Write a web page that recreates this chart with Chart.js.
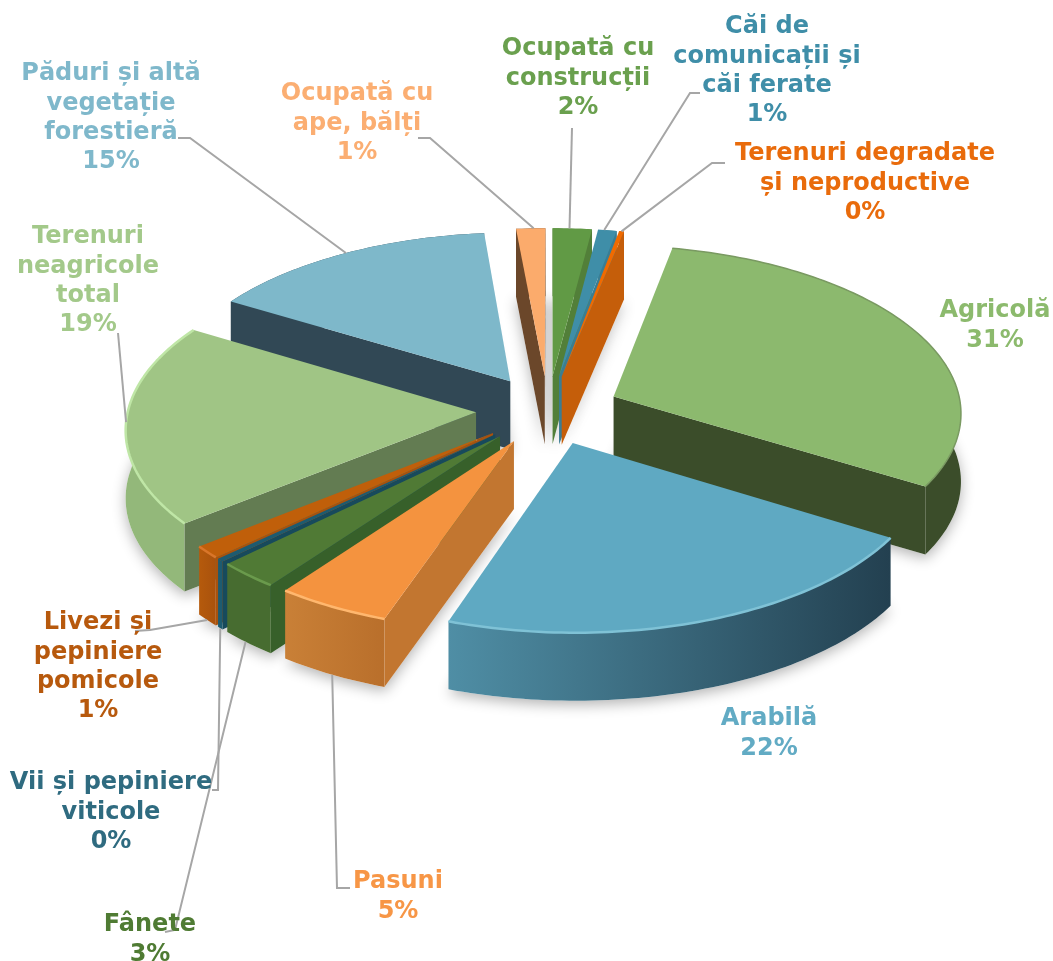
<!DOCTYPE html>
<html lang="ro">
<head>
  <meta charset="UTF-8">
  <title>Structura fondului funciar</title>
  <script src="https://cdn.jsdelivr.net/npm/chart.js"></script>
  <style>
    html, body { margin: 0; padding: 0; background: #fff; }
    canvas { display: block; }
  </style>
</head>
<body>
  <canvas id="pie" width="1053" height="961"></canvas>
  <script>
    // Date (%)
    const categories = ['Agricolă', 'Arabilă', 'Pasuni', 'Fânete', 'Vii și pepiniere viticole',
      'Livezi și pepiniere pomicole', 'Terenuri neagricole total', 'Păduri și altă vegetație forestieră',
      'Ocupată cu ape, bălți', 'Ocupată cu construcții', 'Căi de comunicații și căi ferate',
      'Terenuri degradate și neproductive'];
    const values = [30.52, 21.52, 4.8, 2.6, 0.3, 1.2, 19.4, 14.9, 1.49, 2, 0.95, 0.25];

    // Culori: fața de sus, pereți, margine exterioară (stânga, dreapta), etichetă
    const topColors = ['#8cb96e', '#5fa9c2', '#f4933f', '#507a35', '#1d5b70', '#c05f0a', '#a0c585', '#7eb8ca', '#fbab6c', '#619a45', '#3f8ea8', '#f06a00'];
    const wallColors = ['#3b4d2a', '#25414f', '#c27630', '#37602a', '#174a5c', '#a9520d', '#637c52', '#314855', '#6b472a', '#527f39', '#3a7d93', '#c55e0a'];
    const rimLeft = ['#5d7d45', '#4f8ea5', '#c98037', '#476c30', '#1d5b70', '#b55a0c', '#93b87a', '#314855', '#6b472a', '#527f39', '#3a7d93', '#c55e0a'];
    const rimRight = ['#3b4d2a', '#234050', '#b96f2b', '#476c30', '#1d5b70', '#a9520d', '#93b87a', '#314855', '#6b472a', '#527f39', '#3a7d93', '#c55e0a'];
    const rimLight = ['#7a9a62', '#7fc2d6', '#ffb76e', '#6a9a4c', null, '#d9762a', '#bfe6a6', null, null, null, null, null];
    const labelColors = ['#8cba6d', '#62abc4', '#f79646', '#4f7b33', '#2f6b80', '#b7590d', '#a3c98a', '#7fb8cb', '#fbae72', '#6aa04e', '#3f8ea8', '#e96b0b'];

    // Etichete pe linii
    const labelLines = [
      ['Agricolă'], ['Arabilă'], ['Pasuni'], ['Fânete'], ['Vii și pepiniere', 'viticole'],
      ['Livezi și', 'pepiniere', 'pomicole'], ['Terenuri', 'neagricole', 'total'],
      ['Păduri și altă', 'vegetație', 'forestieră'], ['Ocupată cu', 'ape, bălți'],
      ['Ocupată cu', 'construcții'], ['Căi de', 'comunicații și', 'căi ferate'],
      ['Terenuri degradate', 'și neproductive']
    ];
    const labelX = [995, 769, 398, 150, 111, 98, 88, 111, 357, 578, 767, 865];
    const labelY = [311, 719, 882, 925, 783, 623, 237, 74, 94, 49, 27, 154];
    const lineStep = 29.3;

    // Linii de legătură: fracție pe arc, sus(0)/jos(1), apoi punctele următoare
    const leaders = [
      null, null,
      { t: 0.48, low: 1, pts: [[337, 888], [350, 888]] },
      { t: 0.55, low: 1, pts: [[175, 930], [165, 932]] },
      { t: 0.5, low: 1, pts: [[218, 790], [212, 790]] },
      { t: 0.5, low: 1, pts: [[150, 630], [135, 631]] },
      { t: 0.5, low: 0, pts: [[118, 333]] },
      { t: 0.5, low: 0, pts: [[190, 138], [178, 138]] },
      { t: 0.5, low: 0, pts: [[430, 138], [418, 138]] },
      { t: 0.45, low: 0, pts: [[572, 128]] },
      { t: 0.4, low: 0, pts: [[690, 93], [700, 93]] },
      { t: 0.5, low: 0, pts: [[712, 163], [725, 163]] }
    ];

    // Camera pentru efectul 3D
    const cx = 548, cy = 410, radius = 348, explode = 72, depth = 68, tilt = 0.479, focal = 3930;

    function project(x, y, z) {
      const p = focal / (focal - y);
      return [cx + x * p, cy + y * tilt * p + z];
    }

    function tracePoly(ctx, pts) {
      ctx.beginPath();
      pts.forEach((p, i) => i ? ctx.lineTo(p[0], p[1]) : ctx.moveTo(p[0], p[1]));
      ctx.closePath();
    }

    function sliceGeometry(arc) {
      const mid = (arc.startAngle + arc.endAngle) / 2;
      const ox = Math.cos(mid) * explode, oy = Math.sin(mid) * explode;
      const steps = Math.max(2, Math.ceil((arc.endAngle - arc.startAngle) / 0.02));
      const outer = [];
      for (let s = 0; s <= steps; s++) {
        const a = arc.startAngle + (arc.endAngle - arc.startAngle) * s / steps;
        outer.push([ox + Math.cos(a) * radius, oy + Math.sin(a) * radius]);
      }
      return { apex: [ox, oy], outer: outer };
    }

    function drawSlice(ctx, arc, i) {
      const g = sliceGeometry(arc);
      const topArc = g.outer.map(p => project(p[0], p[1], 0));
      const lowArc = g.outer.map(p => project(p[0], p[1], depth));
      const a0 = project(g.apex[0], g.apex[1], 0), a1 = project(g.apex[0], g.apex[1], depth);
      const last = topArc.length - 1;

      // perete exterior, cu degrade
      const grad = ctx.createLinearGradient(Math.min(topArc[0][0], topArc[last][0]), 0, Math.max(topArc[0][0], topArc[last][0]), 0);
      grad.addColorStop(0, rimLeft[i]);
      grad.addColorStop(1, rimRight[i]);
      ctx.fillStyle = grad;
      tracePoly(ctx, topArc.concat(lowArc.slice().reverse()));
      ctx.fill();

      // pereții radiali vizibili
      ctx.fillStyle = wallColors[i];
      if (Math.sin(arc.startAngle + Math.PI / 2) < 0) {
        tracePoly(ctx, [a0, topArc[0], lowArc[0], a1]);
        ctx.fill();
      }
      if (Math.sin(arc.endAngle + Math.PI / 2) > 0) {
        tracePoly(ctx, [a0, topArc[last], lowArc[last], a1]);
        ctx.fill();
      }

      // fața de sus
      ctx.fillStyle = topColors[i];
      tracePoly(ctx, [a0].concat(topArc));
      ctx.fill();

      // marginea luminată
      if (rimLight[i]) {
        ctx.save();
        ctx.strokeStyle = rimLight[i];
        ctx.lineWidth = i === 0 ? 1.5 : 2.5;
        ctx.lineJoin = 'round';
        ctx.beginPath();
        topArc.forEach((p, k) => k ? ctx.lineTo(p[0], p[1]) : ctx.moveTo(p[0], p[1]));
        ctx.stroke();
        ctx.restore();
      }
    }

    const pie3d = {
      id: 'pie3d',
      beforeDatasetsDraw(chart) {
        const ctx = chart.ctx;
        const arcs = chart.getDatasetMeta(0).data;
        const order = arcs.map((a, i) => i).sort((p, q) =>
          Math.sin((arcs[p].startAngle + arcs[p].endAngle) / 2) - Math.sin((arcs[q].startAngle + arcs[q].endAngle) / 2));

        // umbra de sub felii
        ctx.save();
        ctx.shadowColor = 'rgba(0,0,0,0.3)';
        ctx.shadowBlur = 14;
        ctx.shadowOffsetY = 4;
        ctx.fillStyle = '#fff';
        order.forEach(i => {
          const g = sliceGeometry(arcs[i]);
          const low = g.outer.map(p => project(p[0], p[1], depth));
          tracePoly(ctx, [project(g.apex[0], g.apex[1], depth)].concat(low));
          ctx.fill();
        });
        ctx.restore();

        order.forEach(i => drawSlice(ctx, arcs[i], i));
        return false; // feliile sunt desenate aici
      },
      afterDraw(chart) {
        const ctx = chart.ctx;
        const arcs = chart.getDatasetMeta(0).data;
        const total = values.reduce((s, v) => s + v, 0);

        // linii de legătură
        ctx.save();
        ctx.strokeStyle = '#a6a6a6';
        ctx.lineWidth = 2;
        leaders.forEach((l, i) => {
          if (!l) return;
          const g = sliceGeometry(arcs[i]);
          const p = g.outer[Math.round((g.outer.length - 1) * l.t)];
          const s = project(p[0], p[1], l.low ? depth : 0);
          ctx.beginPath();
          ctx.moveTo(s[0], s[1]);
          l.pts.forEach(q => ctx.lineTo(q[0], q[1]));
          ctx.stroke();
        });
        ctx.restore();

        // etichete
        ctx.save();
        ctx.font = 'bold 24px "DejaVu Sans"';
        ctx.textAlign = 'center';
        ctx.textBaseline = 'middle';
        labelLines.forEach((lines, i) => {
          ctx.fillStyle = labelColors[i];
          lines.concat(Math.round(values[i] / total * 100) + '%').forEach((t, k) => {
            ctx.fillText(t, labelX[i], labelY[i] + k * lineStep);
          });
        });
        ctx.restore();
      }
    };

    new Chart(document.getElementById('pie').getContext('2d'), {
      type: 'pie',
      data: {
        labels: categories,
        datasets: [{ data: values, backgroundColor: topColors, borderWidth: 0, offset: explode }]
      },
      options: {
        responsive: false,
        animation: false,
        rotation: 11.6,
        plugins: { legend: { display: false }, tooltip: { enabled: false } }
      },
      plugins: [pie3d]
    });
  </script>
</body>
</html>
